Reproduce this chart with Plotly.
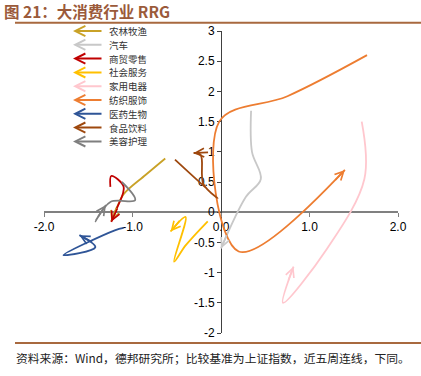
import math
import plotly.graph_objects as go

# ---------------- data ----------------
categories = ["农林牧渔", "汽车", "商贸零售", "社会服务", "家用电器",
              "纺织服饰", "医药生物", "食品饮料", "美容护理"]
colors = ["#C9A227", "#C8C8C8", "#C00000", "#FFC000", "#FFC7CE",
          "#ED7D31", "#2F5597", "#9E480E", "#7F7F7F"]

nlmy_x = [-0.63, -0.85, -1.10, -1.17, -1.24]
nlmy_y = [0.89, 0.62, 0.30, 0.10, -0.15]
qc_x = [0.34, 0.35, 0.45, 0.28, 0.00]
qc_y = [1.68, 1.00, 0.55, 0.25, -0.60]
smls_x = [-1.25, -1.24, -1.10, -1.18, -1.24]
smls_y = [0.42, 0.60, 0.42, 0.05, -0.16]
shfw_x = [-0.15, -0.40, -0.53, -0.40, -0.57]
shfw_y = [-0.15, -0.55, -0.82, -0.08, -0.32]
jydq_x = [1.59, 1.62, 1.20, 0.70, 0.82]
jydq_y = [1.50, 0.55, -0.60, -1.50, -0.90]
fzfs_x = [1.65, 0.75, -0.02, 0.20, 1.40]
fzfs_y = [2.60, 1.92, 1.50, -0.65, 0.70]
yysw_x = [-1.10, -1.20, -1.78, -1.42, -1.60]
yysw_y = [-0.26, -0.30, -0.71, -0.58, -0.38]
spyl_x = [-0.52, -0.04, -0.20, -0.23, -0.31]
spyl_y = [0.87, 0.23, 0.47, 0.95, 0.98]
mrhl_x = [-1.12, -0.97, -1.25, -1.42, -1.30]
mrhl_y = [0.50, 0.20, 0.17, -0.15, 0.12]

series_x = [nlmy_x, qc_x, smls_x, shfw_x, jydq_x, fzfs_x, yysw_x, spyl_x, mrhl_x]
series_y = [nlmy_y, qc_y, smls_y, shfw_y, jydq_y, fzfs_y, yysw_y, spyl_y, mrhl_y]

x_tickvals = [-2, -1, 0, 1, 2]
x_ticktext = ["-2.0", "-1.0", "0.0", "1.0", "2.0"]
y_tickvals = [3, 2.5, 2, 1.5, 1, 0.5, 0, -0.5, -1, -1.5, -2]
y_ticktext = ["3", "2.5", "2", "1.5", "1", "0.5", "0", "-0.5", "-1", "-1.5", "-2"]

title_text = "图 21：大消费行业 RRG"
source_text = "资料来源：Wind，德邦研究所；比较基准为上证指数，近五周连线，下同。"

# ---------------- layout geometry ----------------
WIDTH, HEIGHT = 421, 376
ML, MR, MT, MB = 44, 23, 31, 43
PW, PH = WIDTH - ML - MR, HEIGHT - MT - MB
XR = [-2, 2]
YR = [-2, 3]
SMOOTH = 1.0


def pxp(px):
    return (px - ML) / PW


def pyp(py):
    return 1 - (py - MT) / PH


def to_px(x, y):
    return (ML + (x - XR[0]) / (XR[1] - XR[0]) * PW,
            MT + (YR[1] - y) / (YR[1] - YR[0]) * PH)


def end_direction(xs, ys, s=SMOOTH):
    """direction of the plotly spline at its last point (pixel space)"""
    pts = [to_px(a, b) for a, b in zip(xs, ys)]
    p0, p1, p2 = pts[-3], pts[-2], pts[-1]
    d1x, d1y = p0[0] - p1[0], p0[1] - p1[1]
    d2x, d2y = p2[0] - p1[0], p2[1] - p1[1]
    d1a = (d1x * d1x + d1y * d1y) ** 0.25
    d2a = (d2x * d2x + d2y * d2y) ** 0.25
    numx = (d2a * d2a * d1x - d1a * d1a * d2x) * s
    numy = (d2a * d2a * d1y - d1a * d1a * d2y) * s
    denom2 = 3 * d1a * (d1a + d2a)
    cx = p1[0] - (numx / denom2 if denom2 else 0)
    cy = p1[1] - (numy / denom2 if denom2 else 0)
    dx, dy = p2[0] - cx, p2[1] - cy
    n = math.hypot(dx, dy) or 1
    return dx / n, dy / n


fig = go.Figure()
annotations = []

for name, col, xs, ys in zip(categories, colors, series_x, series_y):
    fig.add_trace(go.Scatter(
        x=xs, y=ys, mode="lines", name=name,
        line=dict(color=col, width=1.8, shape="spline", smoothing=SMOOTH),
        hoverinfo="skip", showlegend=False))
    ux, uy = end_direction(xs, ys)
    L = 16
    annotations.append(dict(
        x=xs[-1], y=ys[-1], xref="x", yref="y",
        ax=-ux * L, ay=-uy * L, axref="pixel", ayref="pixel",
        text="", showarrow=True, arrowhead=5, arrowsize=1.0,
        arrowwidth=1.7, arrowcolor=col, standoff=0))

# custom legend (arrow + label)
for i, (name, col) in enumerate(zip(categories, colors)):
    yy = 31 + i * 13.8
    annotations.append(dict(
        x=pxp(73), y=pyp(yy), xref="paper", yref="paper",
        ax=30, ay=0, axref="pixel", ayref="pixel",
        text="", showarrow=True, arrowhead=5, arrowsize=1.0,
        arrowwidth=2, arrowcolor=col, standoff=0))
    annotations.append(dict(
        x=pxp(107), y=pyp(yy), xref="paper", yref="paper",
        text=name, showarrow=False, xanchor="left", yanchor="middle",
        font=dict(family="Noto Sans CJK SC", size=9.5, color="#333333")))

annotations.append(dict(
    x=pxp(2), y=pyp(11), xref="paper", yref="paper",
    text="<b>" + title_text + "</b>", showarrow=False,
    xanchor="left", yanchor="middle",
    font=dict(family="Noto Sans CJK SC", size=15.5, color="#9B5A3A")))
annotations.append(dict(
    x=pxp(14), y=pyp(357), xref="paper", yref="paper",
    text=source_text, showarrow=False,
    xanchor="left", yanchor="middle",
    font=dict(family="Noto Sans CJK SC", size=11.8, color="#222222")))

shapes = [
    dict(type="line", xref="paper", yref="paper",
         x0=pxp(15), x1=pxp(421), y0=pyp(22.7), y1=pyp(22.7),
         line=dict(color="#A8693F", width=2)),
    dict(type="line", xref="paper", yref="paper",
         x0=pxp(15), x1=pxp(421), y0=pyp(343), y1=pyp(343),
         line=dict(color="#A8693F", width=2)),
]

fig.update_layout(
    width=WIDTH, height=HEIGHT, autosize=False,
    margin=dict(l=ML, r=MR, t=MT, b=MB, pad=0),
    paper_bgcolor="white", plot_bgcolor="white",
    showlegend=False,
    annotations=annotations, shapes=shapes,
    xaxis=dict(range=XR, tickvals=x_tickvals, ticktext=x_ticktext,
               showgrid=False, zeroline=False, showline=True,
               linecolor="#808080", linewidth=1.5,
               ticks="outside", ticklen=4, tickcolor="#808080",
               anchor="free", position=(0 - YR[0]) / (YR[1] - YR[0]),
               tickfont=dict(family="Liberation Sans", size=12, color="#000000"),
               layer="below traces", fixedrange=True),
    yaxis=dict(range=YR, tickvals=y_tickvals, ticktext=y_ticktext,
               showgrid=False, zeroline=False, showline=True,
               linecolor="#404040", linewidth=1,
               ticks="outside", ticklen=4, tickcolor="#404040",
               anchor="free", position=(0 - XR[0]) / (XR[1] - XR[0]),
               tickfont=dict(family="Liberation Sans", size=12, color="#000000"),
               layer="below traces", fixedrange=True),
)

fig.write_html("out.html", config={"displayModeBar": False},
               post_script="document.body.style.margin='0';"
                           "document.body.style.overflow='hidden';")
